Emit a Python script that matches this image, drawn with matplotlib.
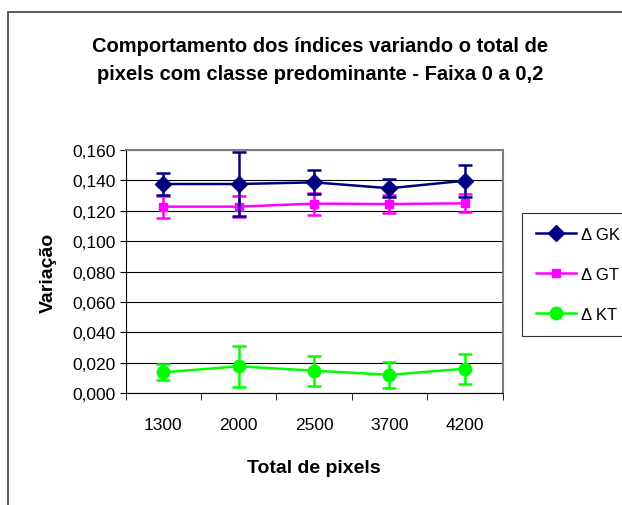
import matplotlib.pyplot as plt
from matplotlib.patches import Rectangle
from matplotlib.ticker import FuncFormatter

plt.rcParams['font.family'] = ['Liberation Sans', 'DejaVu Sans']

# dados
total_pixels = ['1300', '2000', '2500', '3700', '4200']
gk = [0.1376, 0.1376, 0.1387, 0.1348, 0.1398]
gk_err = [0.0074, 0.0210, 0.0080, 0.0060, 0.0105]
gt = [0.1227, 0.1227, 0.1247, 0.1244, 0.1249]
gt_err = [0.0073, 0.0070, 0.0073, 0.0060, 0.0060]
kt = [0.0136, 0.0176, 0.0147, 0.0120, 0.0160]
kt_err = [0.0053, 0.0135, 0.0100, 0.0087, 0.0100]
labels = ['Δ GK', 'Δ GT', 'Δ KT']

fig = plt.figure(figsize=(6.22, 5.06), dpi=100)
ax = fig.add_axes([0.202, 0.2213, 0.606, 0.4803])

x = list(range(len(total_pixels)))
c1 = ax.errorbar(x, gk, yerr=gk_err, color='#000080', marker='D', markersize=8,
                 linewidth=1.8, elinewidth=1.8, capsize=5, capthick=1.8, zorder=5)
c2 = ax.errorbar(x, gt, yerr=gt_err, color='#FF00FF', marker='s', markersize=6,
                 linewidth=1.8, elinewidth=1.8, capsize=5, capthick=1.8, zorder=4)
c3 = ax.errorbar(x, kt, yerr=kt_err, color='#00FF00', marker='o', markersize=9,
                 linewidth=1.8, elinewidth=1.8, capsize=5, capthick=1.8, zorder=4)

ax.set_xlim(-0.5, len(total_pixels) - 0.5)
ax.set_ylim(0, 0.160)
ax.set_yticks([i * 0.02 for i in range(9)])
ax.yaxis.set_major_formatter(FuncFormatter(lambda v, p: '{:.3f}'.format(v).replace('.', ',')))
ax.set_xticks(x)
ax.set_xticklabels(total_pixels)
ax.set_xticks([i - 0.5 for i in range(len(total_pixels) + 1)], minor=True)
ax.tick_params(axis='x', which='major', length=0, pad=17, labelsize=12.5)
ax.tick_params(axis='x', which='minor', length=5, direction='out')
ax.tick_params(axis='y', length=4, direction='out', labelsize=12.5, pad=3)
ax.grid(axis='y', color='black', linewidth=0.8)
ax.set_axisbelow(True)
ax.spines['top'].set_color('#808080')
ax.spines['right'].set_color('#808080')
ax.spines['top'].set_linewidth(1.5)
ax.spines['right'].set_linewidth(1.5)

ax.set_xlabel('Total de pixels', fontsize=14, fontweight='bold', labelpad=20)
ax.set_ylabel('Variação', fontsize=14, fontweight='bold', labelpad=11)

fig.text(0.515, 1 - 61 / 506, 'Comportamento dos índices variando o total de\npixels com classe predominante - Faixa 0 a 0,2',
         ha='center', va='center', fontsize=14.5, fontweight='bold', linespacing=1.6)

handles = [c1.lines[0], c2.lines[0], c3.lines[0]]
leg = fig.legend(handles, labels, loc='upper left', bbox_to_anchor=(522 / 622, 1 - 214 / 506),
                 fontsize=12, frameon=True, fancybox=False, edgecolor='black', handlelength=2.4,
                 borderpad=0.85, borderaxespad=0, labelspacing=1.5, handletextpad=0.3)
leg.get_frame().set_linewidth(0.8)

fig.patches.append(Rectangle((8 / 622, -0.1), 1.2, 1 - 13 / 506 + 0.1, transform=fig.transFigure,
                             fill=False, edgecolor='#404040', linewidth=1.2))

fig.savefig('out.png', dpi=100)
